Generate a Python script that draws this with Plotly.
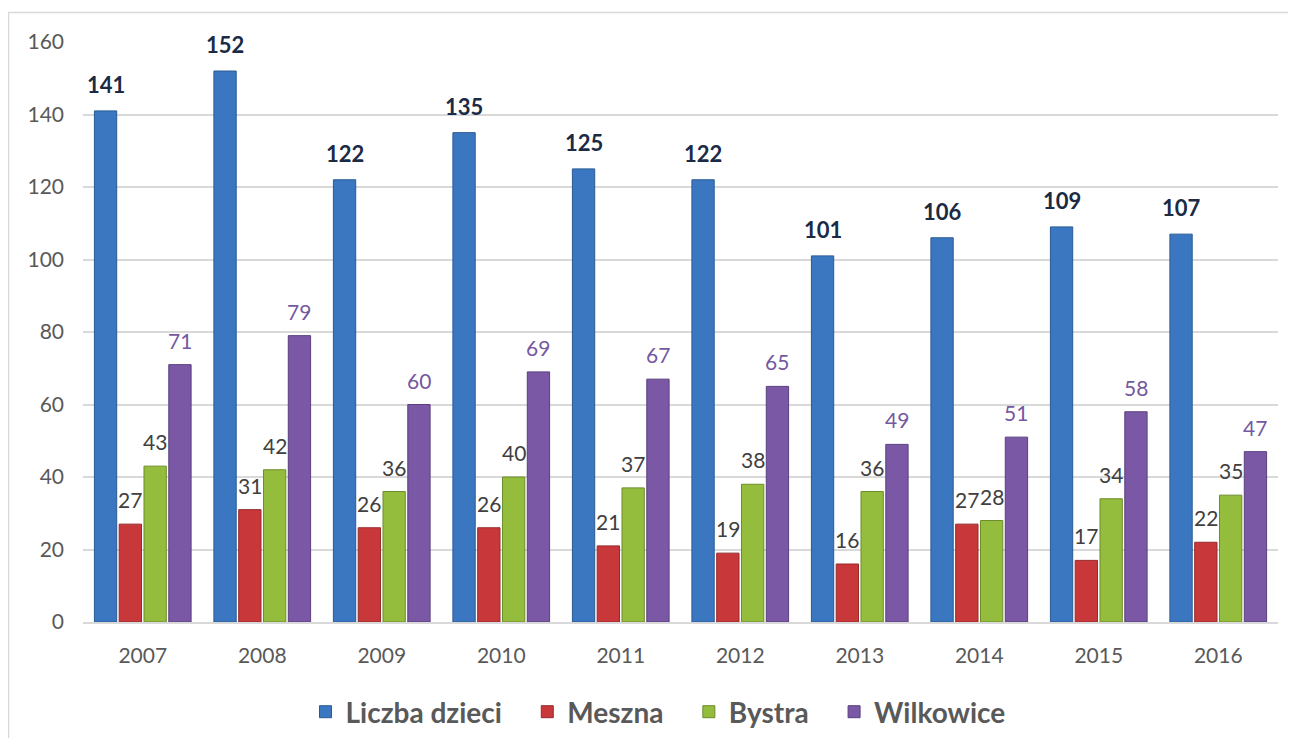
import plotly.graph_objects as go

years = ["2007", "2008", "2009", "2010", "2011", "2012", "2013", "2014", "2015", "2016"]
liczba_dzieci = [141, 152, 122, 135, 125, 122, 101, 106, 109, 107]
meszna = [27, 31, 26, 26, 21, 19, 16, 27, 17, 22]
bystra = [43, 42, 36, 40, 37, 38, 36, 28, 34, 35]
wilkowice = [71, 79, 60, 69, 67, 65, 49, 51, 58, 47]

series_names = ["Liczba dzieci", "Meszna", "Bystra", "Wilkowice"]
series_values = [liczba_dzieci, meszna, bystra, wilkowice]
fill_colors = ["#3B77C0", "#C8383B", "#94BC3D", "#7B58A6"]
line_colors = ["#2A5A94", "#962A2C", "#6D8C2B", "#5A3F7E"]
label_colors = ["#1B2A45", "#404040", "#404040", "#7458A0"]
label_bold = [True, False, False, False]

# page body has an 8px margin, so the figure is drawn 8px in from the window edge
OFF = 8
W, H = 1280, 730
ML, MR, MT, MB = 75, 10, 34, 116
BARGAP, BARGROUPGAP = 0.17, 0.1
FONT = "Lato"

fig = go.Figure()
n = len(series_names)
for idx, (name, vals, fc, lc) in enumerate(zip(series_names, series_values, fill_colors, line_colors)):
    legend_name = name + ("\u00a0" * 3 if idx < n - 1 else "")
    fig.add_trace(go.Bar(
        x=years, y=vals, name=legend_name,
        marker=dict(color=fc, line=dict(color=lc, width=1)),
        hovertemplate=name + ": %{y}<extra>%{x}</extra>",
    ))

# data labels placed above each bar (offset within the group)
plot_w = W - ML - MR
plot_h = H - MT - MB
cat_px = plot_w / len(years)
slot = cat_px * (1 - BARGAP) / n
annotations = []
for i, (vals, col, bold) in enumerate(zip(series_values, label_colors, label_bold)):
    xs = (i - (n - 1) / 2) * slot
    for k, v in enumerate(vals):
        txt = f"<b>{v}</b>" if bold else str(v)
        annotations.append(dict(
            x=k, y=v, xref="x", yref="y", text=txt, showarrow=False,
            xanchor="center", yanchor="bottom", xshift=xs, yshift=11 if bold else 10,
            font=dict(family=FONT, size=22 if bold else 21, color=col),
        ))

def px_to_paper_x(px):
    return (px - OFF - ML) / plot_w
def px_to_paper_y(py):
    return (H - MB - (py - OFF)) / plot_h

fig.update_layout(
    width=W, height=H,
    margin=dict(l=ML, r=MR, t=MT, b=MB, pad=0, autoexpand=False),
    paper_bgcolor="white", plot_bgcolor="white",
    barmode="group", bargap=BARGAP, bargroupgap=BARGROUPGAP,
    font=dict(family=FONT, color="#595959"),
    showlegend=True,
    legend=dict(
        orientation="h", xref="container", yref="container",
        x=(658 - OFF) / W, xanchor="center",
        y=1 - (712 - OFF) / H, yanchor="middle",
        font=dict(family=FONT, size=28, color="#595959", weight="bold"),
        itemclick=False, itemdoubleclick=False,
    ),
    annotations=annotations,
    shapes=[dict(
        type="rect", xref="paper", yref="paper",
        x0=px_to_paper_x(8.5), x1=px_to_paper_x(W + 40),
        y0=px_to_paper_y(H + 40), y1=px_to_paper_y(12.5),
        line=dict(color="#D9D9D9", width=1.5), fillcolor="rgba(0,0,0,0)",
        layer="below",
    )],
)
fig.update_xaxes(
    type="category", range=[-0.5, len(years) - 0.5], autorange=False,
    showgrid=False, showline=True, linecolor="#D9D9D9", linewidth=1.5,
    ticks="", tickfont=dict(family=FONT, size=21, color="#595959"),
    ticklabelstandoff=14, fixedrange=True,
)
fig.update_yaxes(
    range=[0, 160], dtick=20, tick0=0, showgrid=True, gridcolor="#D9D9D9", gridwidth=1.5,
    zeroline=False, showline=False, ticks="",
    tickfont=dict(family=FONT, size=21, color="#595959"),
    ticklabelstandoff=18, fixedrange=True,
)

fig.write_html("out.html")
